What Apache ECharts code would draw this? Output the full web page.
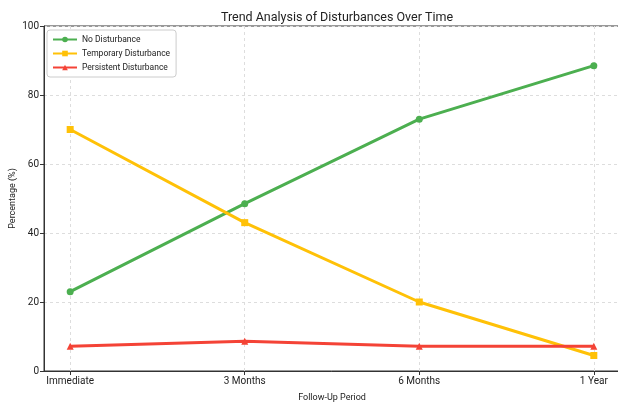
<!DOCTYPE html>
<html><head><meta charset="utf-8">
<script src="https://cdn.jsdelivr.net/npm/echarts@6/dist/echarts.min.js"></script>
<style>html,body{margin:0;padding:0;background:#fff}#c{width:618px;height:403px}</style>
</head><body><div id="c"></div>
<script>
const categories = ['Immediate', '3 Months', '6 Months', '1 Year'];
const noDisturbance = [23, 48.5, 73, 88.5];
const temporaryDisturbance = [70, 43, 20, 4.5];
const persistentDisturbance = [7.2, 8.6, 7.2, 7.2];
const yTicks = [0, 20, 40, 60, 80, 100];

const toXY = arr => arr.map((v, i) => [i, v]);
const font = 'Roboto';
const chart = echarts.init(document.getElementById('c'));
chart.setOption({
  animation: false,
  textStyle: { fontFamily: font },
  title: { text: 'Trend Analysis of Disturbances Over Time', left: 332, textAlign: 'center', top: 6,
    textStyle: { fontFamily: font, fontSize: 12.5, fontWeight: 'normal', color: '#222' } },
  grid: { left: 44, right: -2, top: 26, bottom: 32, outerBoundsMode: 'none', containLabel: false,
    show: true, borderColor: '#333', borderWidth: 1, backgroundColor: 'transparent' },
  legend: {
    orient: 'vertical', left: 47, top: 30, itemWidth: 24, itemHeight: 7, itemGap: 5,
    padding: [5, 6, 5, 5], borderColor: '#ccc', borderWidth: 1, borderRadius: 3, backgroundColor: '#fff',
    textStyle: { fontFamily: font, fontSize: 8.5, color: '#222' },
    data: ['No Disturbance', 'Temporary Disturbance', 'Persistent Disturbance']
  },
  xAxis: {
    type: 'value', min: -0.15, max: 3.15,
    name: 'Follow-Up Period', nameLocation: 'middle', nameGap: 22, nameMoveOverlap: false,
    nameTextStyle: { fontFamily: font, fontSize: 9, color: '#222' },
    axisLine: { show: true, onZero: false, lineStyle: { color: '#333' } },
    axisTick: { show: true, length: 4, customValues: [0, 1, 2, 3], lineStyle: { color: '#333' } },
    axisLabel: { customValues: [0, 1, 2, 3], formatter: v => categories[Math.round(v)], fontSize: 10, color: '#222', margin: 5 },
    splitLine: { show: true, lineStyle: { color: '#ddd', type: [3, 3] } }
  },
  yAxis: {
    type: 'value', min: 0, max: 100, interval: 20,
    name: 'Percentage (%)', nameLocation: 'middle', nameGap: 27, nameMoveOverlap: false,
    nameTextStyle: { fontFamily: font, fontSize: 9, color: '#222' },
    axisLine: { show: true, onZero: false, lineStyle: { color: '#333' } },
    axisTick: { show: true, length: 4, lineStyle: { color: '#333' } },
    axisLabel: { fontSize: 10, color: '#222', margin: 5, formatter: v => yTicks.includes(v) ? String(v) : '' },
    splitLine: { show: true, lineStyle: { color: '#ddd', type: [3, 3] } }
  },
  series: [
    { name: 'No Disturbance', type: 'line', data: toXY(noDisturbance), symbol: 'circle', symbolSize: 7,
      lineStyle: { width: 3, color: '#4CAF50' }, itemStyle: { color: '#4CAF50' } },
    { name: 'Temporary Disturbance', type: 'line', data: toXY(temporaryDisturbance), symbol: 'rect', symbolSize: 7,
      lineStyle: { width: 3, color: '#FFC107' }, itemStyle: { color: '#FFC107' } },
    { name: 'Persistent Disturbance', type: 'line', data: toXY(persistentDisturbance), symbol: 'triangle', symbolSize: 7,
      lineStyle: { width: 3, color: '#F44336' }, itemStyle: { color: '#F44336' } }
  ]
});
</script></body></html>
